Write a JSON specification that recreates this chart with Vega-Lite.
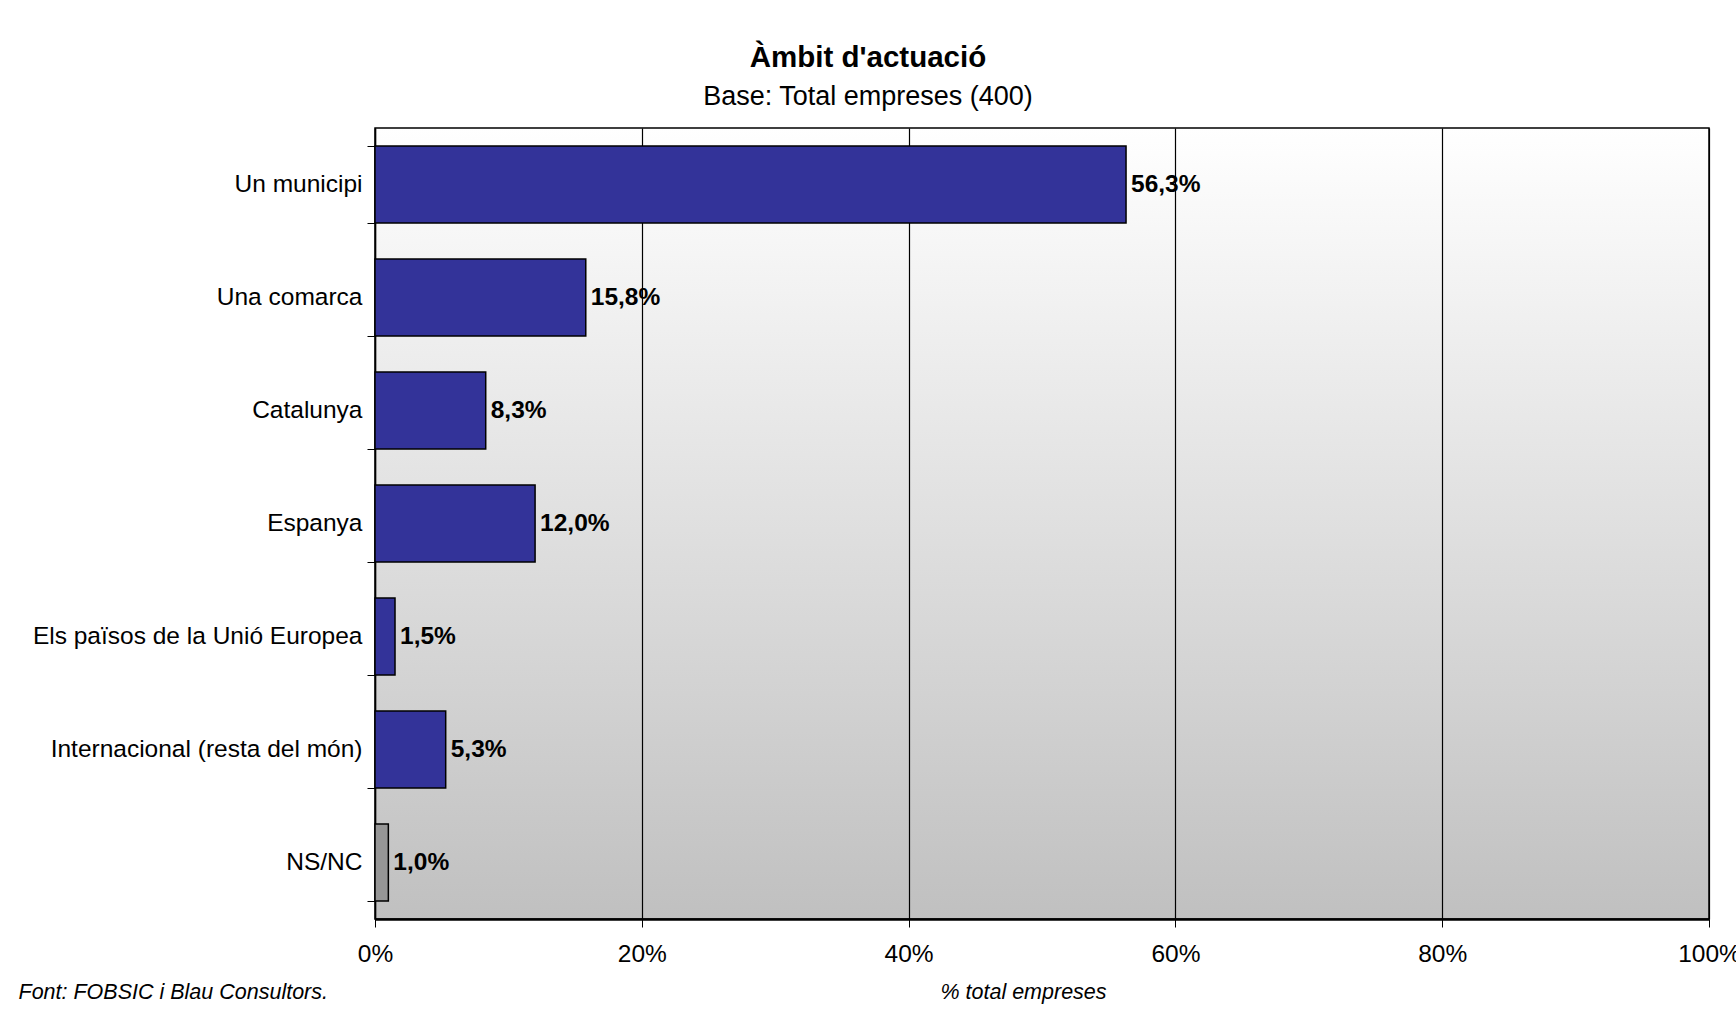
{
  "$schema": "https://vega.github.io/schema/vega-lite/v6.json",
  "width": 1334,
  "height": 791,
  "autosize": {"type": "none"},
  "padding": {"left": 375, "top": 128, "right": 27, "bottom": 90},
  "background": "white",
  "config": {
    "font": "Liberation Sans",
    "locale": {"number": {"decimal": ",", "thousands": ".", "grouping": [3], "currency": ["", " €"]}},
    "view": {
      "stroke": "black",
      "strokeWidth": 1.5,
      "fill": {
        "gradient": "linear",
        "x1": 0, "y1": 0, "x2": 0, "y2": 1,
        "stops": [
          {"offset": 0, "color": "#ffffff"},
          {"offset": 1, "color": "#c0c0c0"}
        ]
      }
    }
  },
  "title": {
    "text": "Àmbit d'actuació",
    "subtitle": "Base: Total empreses (400)",
    "font": "Liberation Sans",
    "subtitleFont": "Liberation Sans",
    "fontSize": 29.5,
    "fontWeight": "bold",
    "subtitleFontSize": 27,
    "color": "black",
    "subtitleColor": "black",
    "anchor": "middle",
    "dx": -174,
    "offset": 4,
    "subtitlePadding": 11
  },
  "data": {
    "values": [
      {"ambit": "Un municipi", "valor": 0.563, "tipus": "resposta"},
      {"ambit": "Una comarca", "valor": 0.158, "tipus": "resposta"},
      {"ambit": "Catalunya", "valor": 0.083, "tipus": "resposta"},
      {"ambit": "Espanya", "valor": 0.120, "tipus": "resposta"},
      {"ambit": "Els països de la Unió Europea", "valor": 0.015, "tipus": "resposta"},
      {"ambit": "Internacional (resta del món)", "valor": 0.053, "tipus": "resposta"},
      {"ambit": "NS/NC", "valor": 0.010, "tipus": "NS/NC"}
    ]
  },
  "encoding": {
    "y": {
      "field": "ambit",
      "type": "nominal",
      "sort": null,
      "scale": {"paddingInner": 0.32, "paddingOuter": 0.16},
      "axis": {
        "title": "Font: FOBSIC i Blau Consultors.",
        "titleAngle": 0,
        "titleAlign": "left",
        "titleBaseline": "middle",
        "titleX": -357,
        "titleY": 864,
        "titleFontSize": 21.5,
        "titleFontStyle": "italic",
        "titleFontWeight": "normal",
        "titleColor": "black",
        "labelFontSize": 24.5,
        "labelColor": "black",
        "labelPadding": 5,
        "labelLimit": 0,
        "tickSize": 8,
        "tickColor": "black",
        "tickBand": "extent",
        "domainColor": "black",
        "domainWidth": 1.5
      }
    }
  },
  "layer": [
    {
      "mark": {"type": "bar", "stroke": "black", "strokeWidth": 1.5},
      "encoding": {
        "x": {
          "field": "valor",
          "type": "quantitative",
          "scale": {"domain": [0, 1]},
          "axis": {
            "title": "%  total empreses",
            "format": ".0%",
            "values": [0, 0.2, 0.4, 0.6, 0.8, 1],
            "grid": true,
            "gridColor": "black",
            "gridWidth": 1.2,
            "gridOpacity": 1,
            "tickSize": 8,
            "tickColor": "black",
            "domainColor": "black",
            "domainWidth": 2.5,
            "labelFontSize": 24.5,
            "labelColor": "black",
            "labelPadding": 15,
            "labelFlush": false,
            "titleFontSize": 21.5,
            "titleFontStyle": "italic",
            "titleFontWeight": "normal",
            "titleColor": "black",
            "titleX": 648,
            "titleY": 73,
            "titleBaseline": "middle"
          }
        },
        "color": {
          "field": "tipus",
          "type": "nominal",
          "scale": {"domain": ["resposta", "NS/NC"], "range": ["#333399", "#969696"]},
          "legend": null
        }
      }
    },
    {
      "mark": {"type": "text", "align": "left", "baseline": "middle", "dx": 5, "fontWeight": "bold", "fontSize": 24.5, "color": "black"},
      "encoding": {
        "x": {"field": "valor", "type": "quantitative"},
        "text": {"field": "valor", "type": "quantitative", "format": ".1%"}
      }
    }
  ]
}
